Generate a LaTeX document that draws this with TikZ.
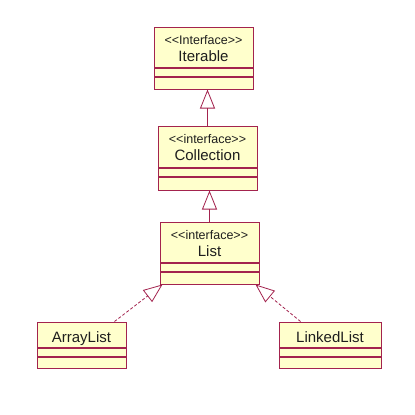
\documentclass[tikz,border=0pt]{standalone}
\usepackage{fontspec}
\setmainfont{Liberation Sans}
\usetikzlibrary{arrows.meta,positioning}
\definecolor{edge}{HTML}{A3234E}
\definecolor{paper}{HTML}{FFFFCC}
\definecolor{ink}{HTML}{1E1E1E}
\newcommand{\stereo}[1]{<\kern0pt<#1>\kern0pt>}
\tikzset{
  cls/.style={draw=edge, fill=paper, line width=1pt, inner sep=0pt},
  head/.style={cls, minimum height=40pt},
  attr/.style={cls, minimum height=8pt},
  ops/.style={cls, minimum height=12pt},
  stype/.style={text=ink, inner sep=0pt, anchor=base, font=\fontsize{12.5}{14}\selectfont},
  cname/.style={text=ink, inner sep=0pt, anchor=base, font=\fontsize{15}{16}\selectfont},
  gen/.style={-{Triangle[open, length=19pt, width=15pt]}, draw=edge, line width=0.8pt},
  real/.style={gen, dash pattern=on 3pt off 2pt},
}
\begin{document}
\begin{tikzpicture}[x=1pt, y=-1pt]
  \useasboundingbox[fill=white] (0,0) rectangle (415,415);
  % =================== interfaces ===================
  \node[head, minimum width=99pt] (iter) at (203.5,47) {};
  \node[attr, minimum width=99pt, below=0pt of iter] (iter-a) {};
  \node[ops, minimum width=99pt, below=0pt of iter-a] (iter-o) {};
  \node[stype] (iter-s) at ([yshift=-17.5pt]iter.north) {\stereo{Interface}};
  \node[cname] (iter-n) at ([yshift=-35pt]iter.north) {Iterable};

  \node[head, minimum width=99pt, minimum height=41pt] (coll) at (207.5,146.5) {};
  \node[attr, minimum width=99pt, below=0pt of coll] (coll-a) {};
  \node[ops, minimum width=99pt, minimum height=13pt, below=0pt of coll-a] (coll-o) {};
  \node[stype] (coll-s) at ([yshift=-17.5pt]coll.north) {\stereo{interface}};
  \node[cname] (coll-n) at ([yshift=-35pt]coll.north) {Collection};

  \node[head, minimum width=99pt] (list) at (209.5,242) {};
  \node[attr, minimum width=99pt, below=0pt of list] (list-a) {};
  \node[ops, minimum width=99pt, below=0pt of list-a] (list-o) {};
  \node[stype] (list-s) at ([yshift=-17.5pt]list.north) {\stereo{interface}};
  \node[cname] (list-n) at ([yshift=-35pt]list.north) {List};

  % =================== classes ===================
  \node[head, minimum width=89pt, minimum height=25pt] (alist) at (81.5,334.5) {};
  \node[attr, minimum width=89pt, below=0pt of alist] (alist-a) {};
  \node[ops, minimum width=89pt, minimum height=11pt, below=0pt of alist-a] (alist-o) {};
  \node[cname] (alist-n) at ([yshift=-20.5pt]alist.north) {ArrayList};

  \node[head, minimum width=102pt, minimum height=25pt] (llist) at (330,334.5) {};
  \node[attr, minimum width=102pt, below=0pt of llist] (llist-a) {};
  \node[ops, minimum width=102pt, minimum height=11pt, below=0pt of llist-a] (llist-o) {};
  \node[cname] (llist-n) at ([yshift=-20.5pt]llist.north) {LinkedList};

  % generalization and realization
  \draw[gen] (coll.north) -- (coll.north |- iter-o.south);
  \draw[gen] (list.north) -- (list.north |- coll-o.south);
  \draw[real] ([xshift=-12pt]alist.north east) -- ([xshift=3pt]list-o.south west);
  \draw[real] ([xshift=22pt]llist.north west) -- ([xshift=-4pt]list-o.south east);
\end{tikzpicture}
\end{document}
